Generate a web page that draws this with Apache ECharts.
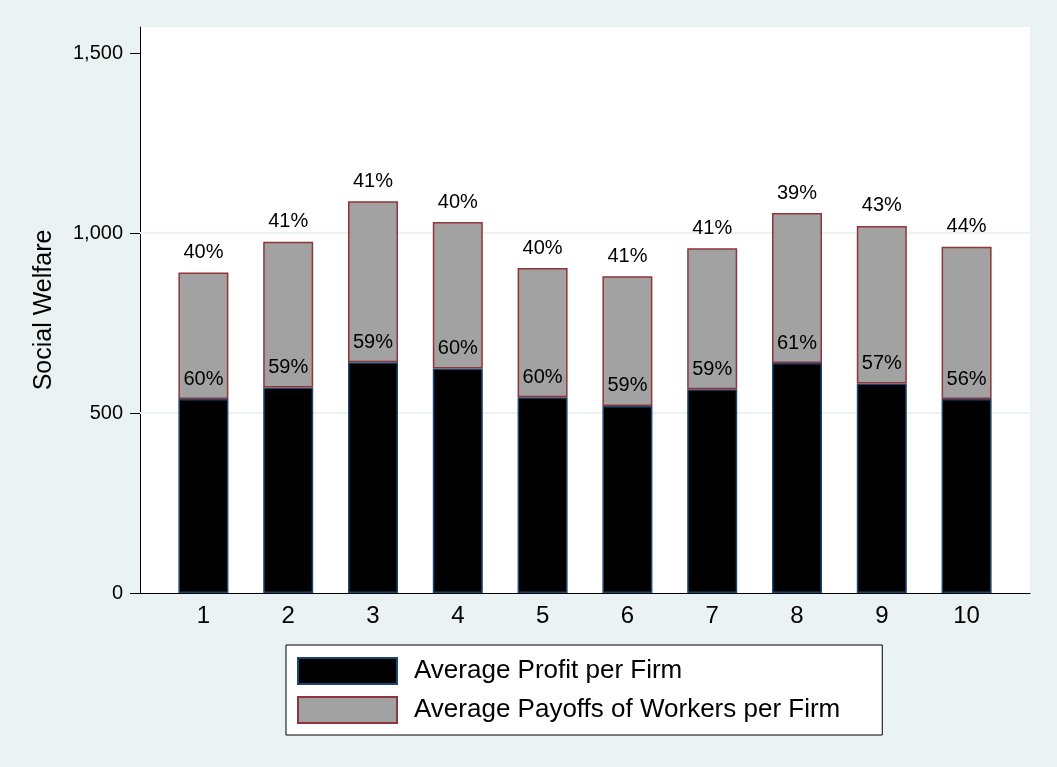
<!DOCTYPE html>
<html>
<head>
<meta charset="utf-8">
<title>Social Welfare</title>
<script src="https://cdn.jsdelivr.net/npm/echarts@6/dist/echarts.min.js"></script>
<style>
    html,body{margin:0;padding:0;background:#EAF2F3;}
    #chartBox{width:1057px;height:767px;}
</style>
</head>
<body>
<div id="chartBox"></div>
<script>
// groups on the x axis
const categories = ['1', '2', '3', '4', '5', '6', '7', '8', '9', '10'];
// average profit per firm (black, bottom part)
const profit = [539, 571, 641, 624, 544, 520, 566, 639, 582, 539];
// average payoffs of workers per firm (grey, stacked on top)
const workers = [352, 405, 448, 407, 359, 360, 392, 417, 438, 423];
// share labels printed on the bars
const profitPct = ['60%', '59%', '59%', '60%', '60%', '59%', '59%', '61%', '57%', '56%'];
const workersPct = ['40%', '41%', '41%', '40%', '40%', '41%', '41%', '39%', '43%', '44%'];
// y axis
const yTicks = [0, 500, 1000, 1500];
const gridValues = [500, 1000];
const yMax = 1573;

const font = 'Liberation Sans, Arial, Helvetica, sans-serif';

const myChart = echarts.init(document.getElementById('chartBox'));

// grid 0 = plot region with the axes, grid 1 = the bars (outer gap like stata)
let option = {
    backgroundColor: '#EAF2F3',
    textStyle: {fontFamily: font, color: '#000'},
    grid: [
        {
            left: 140, right: 27, top: 27, bottom: 174,
            show: true, backgroundColor: '#fff', borderWidth: 0
        },
        {
            left: 161, right: 48, top: 27, bottom: 174
        }
    ],
    legend: {
        orient: 'vertical',
        left: 286,
        top: 645,
        backgroundColor: '#fff',
        borderColor: '#000',
        borderWidth: 1,
        borderRadius: 0,
        padding: [12, 42, 11, 11],
        itemWidth: 99,
        itemHeight: 26,
        itemGap: 11,
        icon: 'rect',
        textStyle: {
            fontFamily: font,
            fontSize: 26,
            color: '#000',
            lineHeight: 26,
            padding: [0, 0, 0, 12]
        },
        data: ['Average Profit per Firm', 'Average Payoffs of Workers per Firm']
    },
    xAxis: [
        {
            gridIndex: 0,
            type: 'value',
            min: 0,
            max: 1,
            axisLine: {show: true, lineStyle: {color: '#000', width: 1}},
            axisTick: {show: false},
            axisLabel: {show: false},
            splitLine: {show: false}
        },
        {
            gridIndex: 1,
            type: 'category',
            data: categories,
            axisLine: {show: false},
            axisTick: {show: false},
            axisLabel: {fontSize: 24, color: '#000', margin: 11}
        }
    ],
    yAxis: [
        {
            gridIndex: 0,
            type: 'value',
            min: 0,
            max: yMax,
            interval: 500,
            name: 'Social Welfare',
            nameLocation: 'middle',
            nameGap: 83,
            nameTextStyle: {fontSize: 25, color: '#000', fontFamily: font},
            axisLine: {show: true, lineStyle: {color: '#000', width: 1}},
            axisTick: {show: true, length: 10, customValues: yTicks, lineStyle: {color: '#000'}},
            splitLine: {show: false},
            axisLabel: {
                customValues: yTicks,
                fontSize: 20,
                color: '#000',
                margin: 17,
                formatter: function(v){
                    if(yTicks.indexOf(v) < 0) return '';
                    return v.toLocaleString('en-US');
                }
            }
        },
        {
            gridIndex: 1,
            type: 'value',
            min: 0,
            max: yMax,
            show: false,
            splitLine: {show: false}
        }
    ],
    series: [
        {
            // carries only the light gridlines across the full plot region
            name: 'grid',
            type: 'line',
            xAxisIndex: 0,
            yAxisIndex: 0,
            data: [],
            markLine: {
                z: 1,
                silent: true,
                symbol: 'none',
                label: {show: false},
                lineStyle: {color: '#EAF2F3', width: 2, type: 'solid'},
                data: gridValues.map(v => ({yAxis: v}))
            }
        },
        {
            name: 'Average Profit per Firm',
            type: 'bar',
            stack: 'sw',
            xAxisIndex: 1,
            yAxisIndex: 1,
            barWidth: 50,
            data: profit,
            itemStyle: {color: '#000', borderColor: '#1A476F', borderWidth: 1.5},
            label: {
                show: true,
                position: 'top',
                distance: 10,
                fontSize: 20,
                color: '#000',
                fontFamily: font,
                formatter: p => profitPct[p.dataIndex]
            }
        },
        {
            name: 'Average Payoffs of Workers per Firm',
            type: 'bar',
            stack: 'sw',
            xAxisIndex: 1,
            yAxisIndex: 1,
            barWidth: 50,
            data: workers,
            itemStyle: {color: '#A2A2A2', borderColor: '#90353B', borderWidth: 1.5},
            label: {
                show: true,
                position: 'top',
                distance: 10,
                fontSize: 20,
                color: '#000',
                fontFamily: font,
                formatter: p => workersPct[p.dataIndex]
            }
        }
    ]
};

myChart.setOption(option);
</script>
</body>
</html>
